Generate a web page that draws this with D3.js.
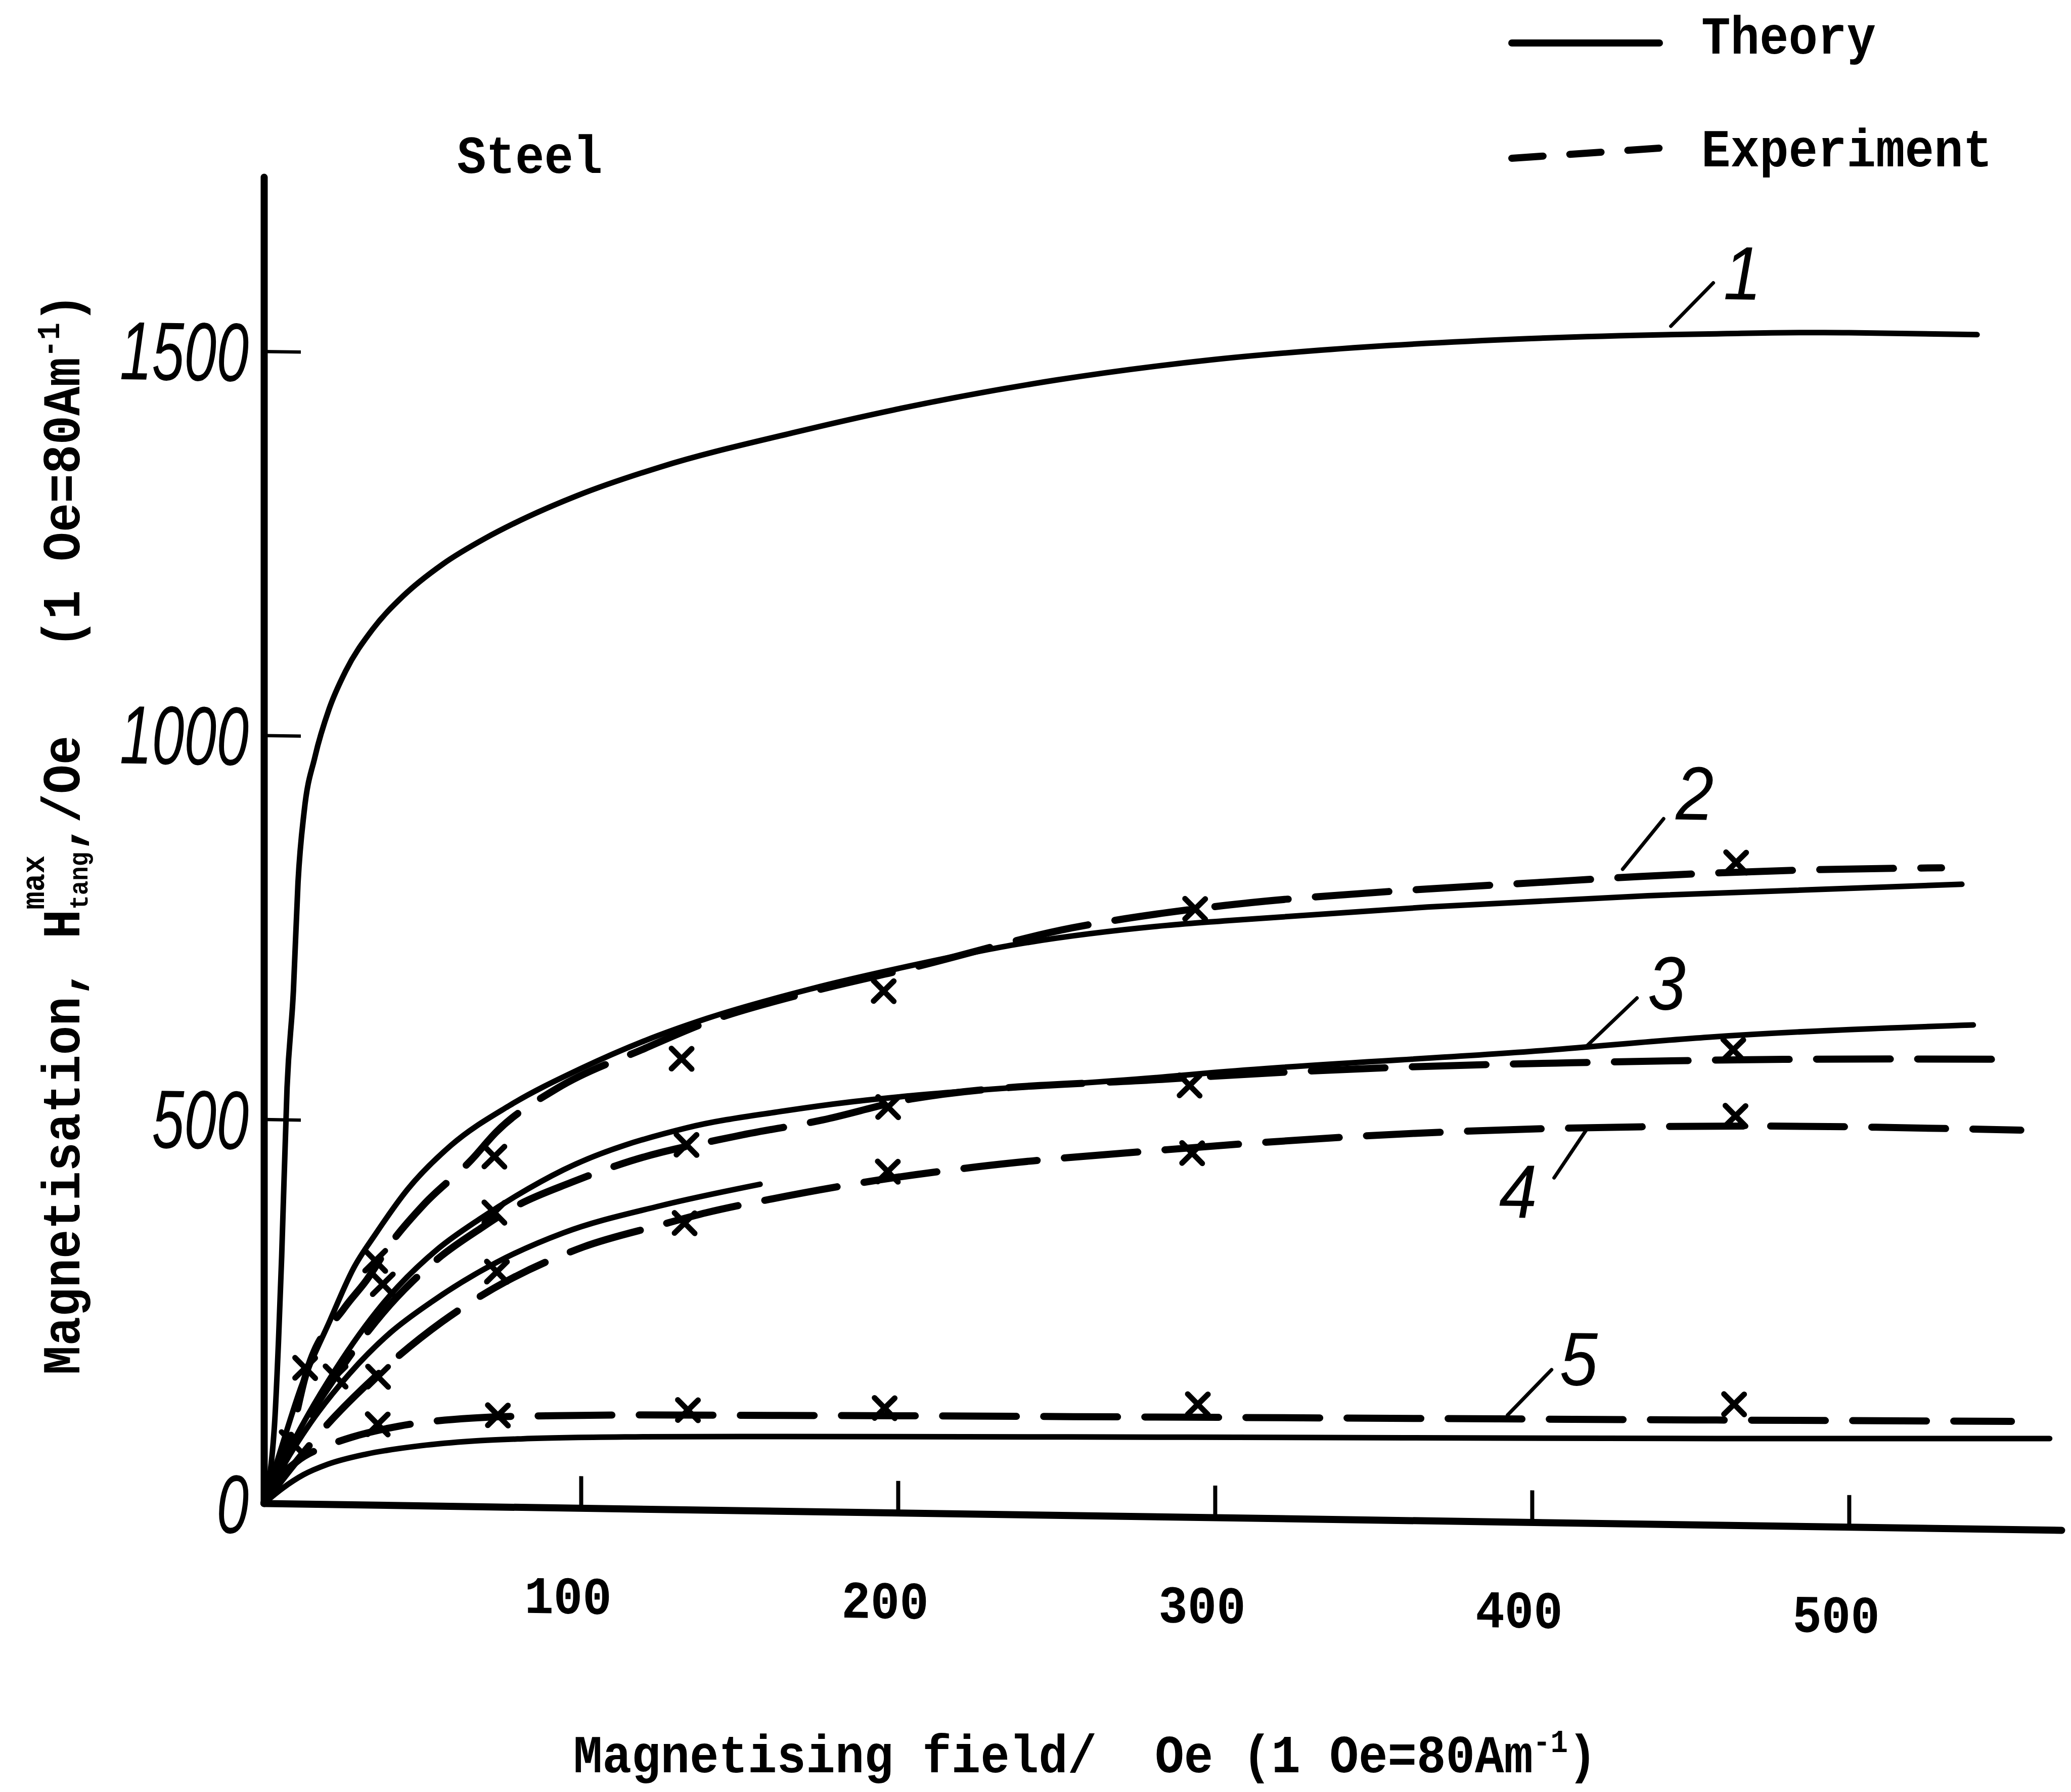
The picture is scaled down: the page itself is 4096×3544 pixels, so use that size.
<!DOCTYPE html>
<html>
<head>
<meta charset="utf-8">
<script src="https://cdn.jsdelivr.net/npm/d3@7"></script>
<style>
  html, body { margin: 0; padding: 0; background: #fff; }
  svg { display: block; }
</style>
</head>
<body>
<svg id="chart" width="4096" height="3544"></svg>
<script>
// ---- Axes ----
const xTicks = [100, 200, 300, 400, 500];
const yTicks = [0, 500, 1000, 1500];
const xMax = 567;
const yMax = 1727;

// ---- Theory curves: [magnetising field (Oe), H_tang max (Oe)] ----
const theory1 = [[0,0],[3.3,100],[4.6,212],[5.6,322],[7.3,542],[9.3,668],[10.75,809],[12.7,902],[16.1,973],[20.6,1036],[25.75,1085],[34.25,1140],[43.9,1184],[56.3,1226],[69.9,1261],[79,1281],[98.75,1318],[125,1357],[166.7,1404],[198.75,1436],[250,1478],[298.3,1507],[333.3,1522],[398.75,1541],[458.3,1551],[500,1555],[540.4,1555]];
const theory2 = [[0,0],[5,66],[11.7,152],[20.8,239],[28.3,308],[35.25,353],[45.4,412],[59.1,470],[77.2,522],[99.9,572],[120.3,610],[139.8,640],[172.2,680],[204.5,713],[236.9,742],[284.9,770],[302.8,777],[367.1,799],[436.5,818],[535.6,839]];
const theory3 = [[0,0],[9.2,80],[22.5,175],[37.5,262],[55,335],[68.3,375],[79.5,405],[94.5,440],[133.3,497],[164.2,521],[185.1,534],[203.7,543],[284.9,573],[298.9,579],[405.3,615],[455.7,635],[539.2,656]];
const theory4 = [[0,0],[6.25,50],[14.6,105],[26.9,170],[40,225],[52.7,265],[73.3,318],[94.5,358],[125,395],[156.5,425]];
const theory5 = [[0,0],[5.9,20],[12.5,38],[20.1,52],[32.25,66],[49.5,78],[65.8,85],[81.7,89],[120,94],[164.2,97],[291.7,104],[458.3,112.5],[563.3,119]];

// ---- Experimental curves (dashed) ----
const experiment2 = [[0,0],[9.2,99],[13,165],[25.4,256],[32.1,291],[40.4,343],[50.4,392],[65.4,451],[73.3,488],[92.5,546],[120.3,600],[139.8,635],[172,676],[204.6,710],[255,765],[285.4,787],[302.9,797],[365.4,822],[401.7,833],[434.6,843],[495.4,856],[529.2,860]];
const experiment3 = [[0,0],[9.2,78],[22.5,166],[37.5,250],[55.8,325],[68.3,362],[78.75,390],[97.1,424],[115.8,453],[148.75,487],[176.25,510],[204.2,539],[285,570],[354.2,589],[412.5,599],[479.2,607.5],[551.25,612]];
const experiment4 = [[0,0],[8.3,45],[19.2,100],[34.6,165],[56.25,240],[68.75,275],[100.8,340],[125,370],[139.6,387],[160,406],[187.1,428],[225,452],[285,478],[362.9,504],[434.6,517],[500,521],[554.2,520]];
const experiment5 = [[0,0],[4.2,30],[10.4,55],[21.1,78],[27.9,88],[42.5,103],[65.8,115],[99.2,120.5],[162.5,124.4],[291.7,130],[458.3,136.6],[551.25,140.6]];

// ---- Measured points (x markers) ----
const points2 = [[13,177],[35.1,318],[72.7,456],[131.75,587],[195.5,679],[293.75,792],[464.4,863]];
const points3 = [[22.6,166.5],[37.5,287.5],[72.7,383],[133.3,475],[196.9,528],[292,562],[463.5,619]];
const points4 = [[36,167],[73.5,306],[132.7,373],[196.8,444],[292.8,474],[464.2,533]];
const points5 = [[8.75,80],[35.9,105],[73.8,119],[133.75,129.5],[195.8,136],[294.6,147],[463.75,157.5]];

// ---- Curve numbers, anchored where their leader touches the curve ----
const curveNames = ["1", "2", "3", "4", "5"];
const curveAnchorField = [443.8, 428.6, 417.5, 417.5, 392.3];
const curveAnchorValue = [1560, 852, 622, 514, 139];

const legendLabels = ["Theory", "Experiment"];
const panelTitle = "Steel";

// ---- Layout ----
const plot = { x0: 522, x1: 4077, y0: 2973, y1: 350, skewDeg: 0.854 };
const MONO = "'Liberation Mono', 'DejaVu Sans Mono', monospace";
const HAND = "'Liberation Sans', 'DejaVu Sans', sans-serif";
const mono = { size: 105, squeeze: 0.913, weight: "bold" };
const leaderLayout = [
  { lead: [84, -87],  text: [104, -55] },
  { lead: [81, -101], text: [105, -100] },
  { lead: [98, -95],  text: [119, -73] },
  { lead: [-66, 99],  text: [-175, 179] },
  { lead: [87, -91],  text: [103, -61] }
];

const svg = d3.select("#chart");
svg.append("rect").attr("width", 4096).attr("height", 3544).attr("fill", "#fff");

const x = d3.scaleLinear().domain([0, xMax]).range([plot.x0, plot.x1]);
const y = d3.scaleLinear().domain([0, yMax]).range([plot.y0, plot.y1]);

// The drawing frame leans slightly: the field axis drops towards the right.
const frame = svg.append("g")
  .attr("transform", `translate(${plot.x0},${plot.y0}) skewY(${plot.skewDeg}) translate(${-plot.x0},${-plot.y0})`);

// Typewriter-style text helper (monospace, slightly condensed)
function typed(parent, str, tx, ty, extra) {
  const t = parent.append("text")
    .attr("transform", `translate(${tx},${ty}) ${extra || ""} scale(${mono.squeeze},1)`)
    .attr("font-family", MONO)
    .attr("font-size", mono.size)
    .attr("font-weight", mono.weight)
    .attr("fill", "#000");
  if (str !== null) t.text(str);
  return t;
}

// ---- Y axis ----
const gY = frame.append("g")
  .attr("transform", `translate(${x(0)},0)`)
  .call(d3.axisLeft(y).tickValues(yTicks).tickFormat(d3.format("d"))
    .tickSize(-73).tickSizeOuter(0).tickPadding(0));
gY.attr("font-family", null).attr("font-size", null);
gY.select(".domain").attr("stroke", "#000").attr("stroke-width", 14).attr("stroke-linecap", "round");
gY.selectAll(".tick line").attr("stroke", "#000").attr("stroke-width", 6.5);
gY.selectAll(".tick").filter(d => d === 0).select("line").remove();
gY.selectAll(".tick text")
  .attr("x", 0).attr("dy", "0.36em")
  .attr("transform", "translate(-30,0) scale(0.7,1)")
  .attr("text-anchor", "end")
  .attr("font-family", HAND).attr("font-style", "italic")
  .attr("font-size", 164).attr("fill", "#000");

// ---- X axis ----
const gX = frame.append("g")
  .attr("transform", `translate(0,${y(0)})`)
  .call(d3.axisBottom(x).tickValues(xTicks).tickFormat(d3.format("d"))
    .tickSize(-63).tickSizeOuter(0).tickPadding(0));
gX.attr("font-family", null).attr("font-size", null);
gX.select(".domain").attr("stroke", "#000").attr("stroke-width", 14).attr("stroke-linecap", "round");
gX.selectAll(".tick line").attr("stroke", "#000").attr("stroke-width", 8);
gX.selectAll(".tick text")
  .attr("y", 0).attr("dy", 0)
  .attr("transform", `translate(-26,209) scale(${mono.squeeze},1)`)
  .attr("text-anchor", "middle")
  .attr("font-family", MONO).attr("font-weight", mono.weight)
  .attr("font-size", mono.size).attr("fill", "#000");

// ---- Curves ----
const line = d3.line().x(d => x(d[0])).y(d => y(d[1])).curve(d3.curveMonotoneX);

const theorySeries = [theory1, theory2, theory3, theory4, theory5];
const experimentSeries = [experiment2, experiment3, experiment4, experiment5];
const pointSeries = [points2, points3, points4, points5];

frame.append("g").selectAll("path")
  .data(experimentSeries).join("path")
  .attr("d", line)
  .attr("fill", "none").attr("stroke", "#000")
  .attr("stroke-width", 14).attr("stroke-linecap", "round")
  .attr("stroke-dasharray", "146,54");

frame.append("g").selectAll("path")
  .data(theorySeries).join("path")
  .attr("d", line)
  .attr("fill", "none").attr("stroke", "#000")
  .attr("stroke-width", 11).attr("stroke-linecap", "round").attr("stroke-linejoin", "round");

// x-shaped markers
const timesSymbol = {
  draw(ctx, size) {
    const r = Math.sqrt(size) / 2;
    ctx.moveTo(-r, -r); ctx.lineTo(r, r);
    ctx.moveTo(r, -r); ctx.lineTo(-r, r);
  }
};
const marker = d3.symbol().type(timesSymbol).size(40 * 40);
frame.append("g").selectAll("path")
  .data(pointSeries.flat()).join("path")
  .attr("transform", d => `translate(${x(d[0])},${y(d[1])})`)
  .attr("d", marker)
  .attr("fill", "none").attr("stroke", "#000")
  .attr("stroke-width", 11).attr("stroke-linecap", "round");

// ---- Curve numbers with leaders ----
const gLab = frame.append("g");
curveNames.forEach((name, i) => {
  const px = x(curveAnchorField[i]);
  const py = y(curveAnchorValue[i]);
  const L = leaderLayout[i];
  gLab.append("line")
    .attr("x1", px).attr("y1", py)
    .attr("x2", px + L.lead[0]).attr("y2", py + L.lead[1])
    .attr("stroke", "#000").attr("stroke-width", 7).attr("stroke-linecap", "round");
  gLab.append("text")
    .attr("transform", `translate(${px + L.text[0]},${py + L.text[1]}) scale(0.9,1)`)
    .attr("font-family", HAND).attr("font-style", "italic")
    .attr("font-size", 150).attr("fill", "#000")
    .text(name);
});

// ---- Panel title ----
typed(svg, panelTitle, 904, 342);

// ---- Legend ----
const legendRows = [
  { y0: 85, y1: 85, textY: 106, dash: null },
  { y0: 313, y1: 293, textY: 329, dash: "62,53" }
];
legendLabels.forEach((lab, i) => {
  const r = legendRows[i];
  svg.append("line")
    .attr("x1", 2990).attr("y1", r.y0).attr("x2", 3282).attr("y2", r.y1)
    .attr("stroke", "#000").attr("stroke-width", 14).attr("stroke-linecap", "round")
    .attr("stroke-dasharray", r.dash);
  typed(svg, lab, 3365, r.textY);
});

// ---- Axis titles ----
const xTitle = typed(svg, null, 1134, 3505);
xTitle.append("tspan").text("Magnetising field/\u00a0\u00a0Oe (1 Oe=80Am");
xTitle.append("tspan").attr("font-size", 63).attr("dy", -40).text("-1");
xTitle.append("tspan").attr("dy", 40).text(")");

const yTitle = typed(svg, null, 157, 2719, "rotate(-90)");
yTitle.append("tspan").text("Magnetisation, H");
yTitle.append("tspan").attr("font-size", 65).attr("dy", -70).text("max");
yTitle.append("tspan").attr("font-size", 52).attr("dx", -117).attr("dy", 86).text("tang");
yTitle.append("tspan").attr("dy", -16).text(",/Oe\u00a0\u00a0\u00a0(1 Oe=80Am");
yTitle.append("tspan").attr("font-size", 63).attr("dy", -40).text("-1");
yTitle.append("tspan").attr("dy", 40).text(")");
</script>
</body>
</html>
